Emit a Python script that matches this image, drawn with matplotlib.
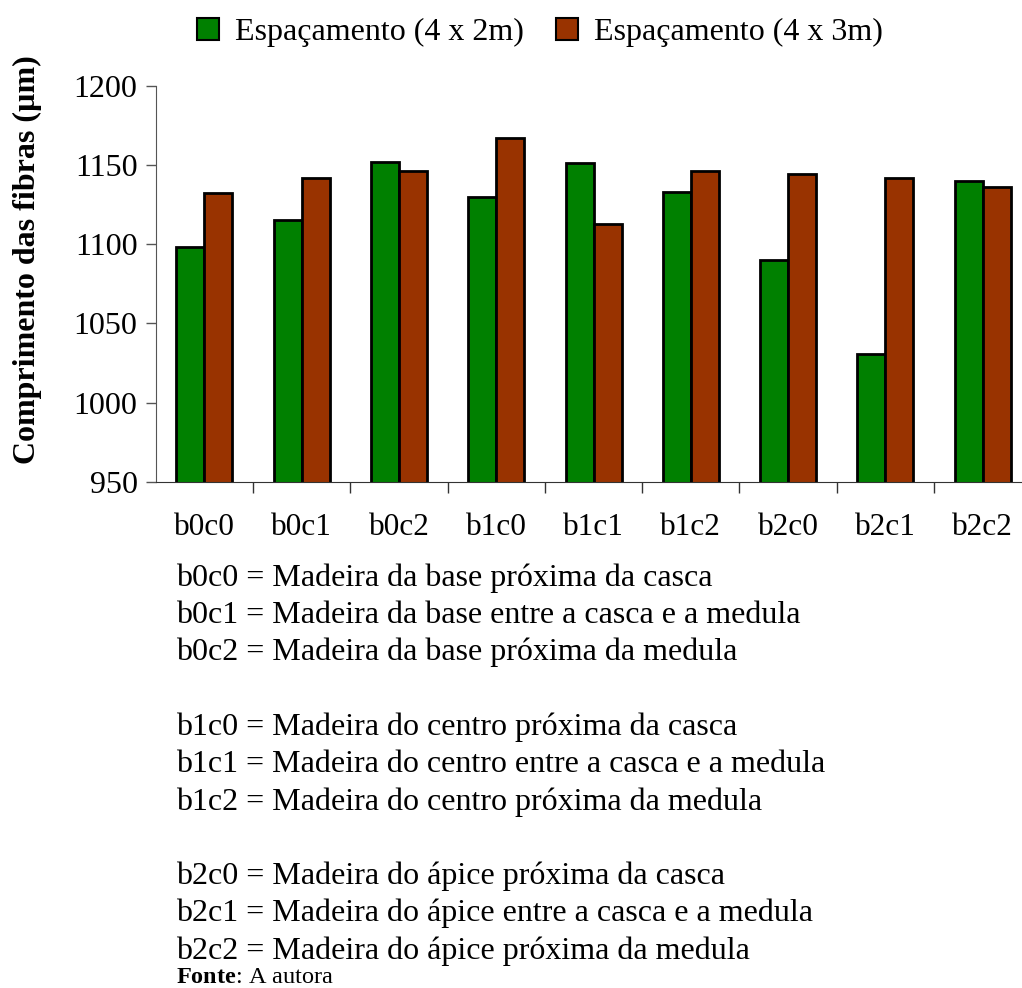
import matplotlib
matplotlib.use('Agg')
import matplotlib.pyplot as plt
import numpy as np
from matplotlib.patches import Patch

plt.rcParams['font.family'] = ['Liberation Serif', 'DejaVu Serif']
plt.rcParams['mathtext.fontset'] = 'custom'
plt.rcParams['mathtext.rm'] = 'Liberation Serif'
plt.rcParams['mathtext.bf'] = 'Liberation Serif:bold'

categories = ['b0c0', 'b0c1', 'b0c2', 'b1c0', 'b1c1', 'b1c2', 'b2c0', 'b2c1', 'b2c2']
esp_4x2 = [1098, 1115, 1152, 1130, 1151, 1133, 1090, 1031, 1140]
esp_4x3 = [1132, 1142, 1146, 1167, 1113, 1146, 1144, 1142, 1136]
series_names = ['Espaçamento (4 x 2m)', 'Espaçamento (4 x 3m)']
yticks = [950, 1000, 1050, 1100, 1150, 1200]

notes = [
    'b0c0 = Madeira da base próxima da casca',
    'b0c1 = Madeira da base entre a casca e a medula',
    'b0c2 = Madeira da base próxima da medula',
    '',
    'b1c0 = Madeira do centro próxima da casca',
    'b1c1 = Madeira do centro entre a casca e a medula',
    'b1c2 = Madeira do centro próxima da medula',
    '',
    'b2c0 = Madeira do ápice próxima da casca',
    'b2c1 = Madeira do ápice entre a casca e a medula',
    'b2c2 = Madeira do ápice próxima da medula',
]

green = '#008000'
red = '#993300'

fig = plt.figure(figsize=(10.22, 9.88), dpi=100)
ax = fig.add_axes([0.1523, 0.5121, 0.8569, 0.4012])

x = np.arange(len(categories))
w = 0.288
ax.bar(x - w / 2, esp_4x2, w, color=green, edgecolor='black', linewidth=2)
ax.bar(x + w / 2, esp_4x3, w, color=red, edgecolor='black', linewidth=2)

ax.set_xlim(-0.5, len(categories) - 0.5)
ax.set_ylim(950, 1200)
ax.set_yticks(yticks)
ax.tick_params(axis='y', labelsize=23, length=7, width=1, color='#555555', pad=6)
# ticks between the groups, labels centred under them
ax.set_xticks(x + 0.5)
ax.set_xticklabels([])
ax.tick_params(axis='x', length=8, width=1, direction='out', color='#333333')
ax.set_xticks(x, minor=True)
ax.set_xticklabels(categories, minor=True)
ax.tick_params(axis='x', which='minor', length=0, labelsize=22.5, pad=22)

for s in ['top', 'right']:
    ax.spines[s].set_visible(False)
ax.spines['left'].set_color('#555555')
ax.spines['bottom'].set_color('#333333')

fig.text(27 / 1022, 1 - 260 / 988, 'Comprimento das fibras (µm)', fontsize=23,
         fontweight='bold', rotation=90, ha='center', va='center')

handles = [Patch(facecolor=green, edgecolor='black', linewidth=1.5),
           Patch(facecolor=red, edgecolor='black', linewidth=1.5)]
fig.legend(handles, series_names, loc='upper left', bbox_to_anchor=(0.165, 1.011),
           ncol=2, frameon=False, fontsize=23, handlelength=0.69, handleheight=0.69,
           handletextpad=0.5, columnspacing=1.0)

y0 = 1 - 578 / 988
step = 37.3 / 988
for i, line in enumerate(notes):
    if line:
        fig.text(176 / 1022, y0 - i * step, line, fontsize=23, va='center', ha='left')

fig.text(176 / 1022, 1 - 977 / 988, r'$\mathbf{Fonte}$: A autora', fontsize=17.5, va='center', ha='left')

fig.savefig('out.png', dpi=100)
